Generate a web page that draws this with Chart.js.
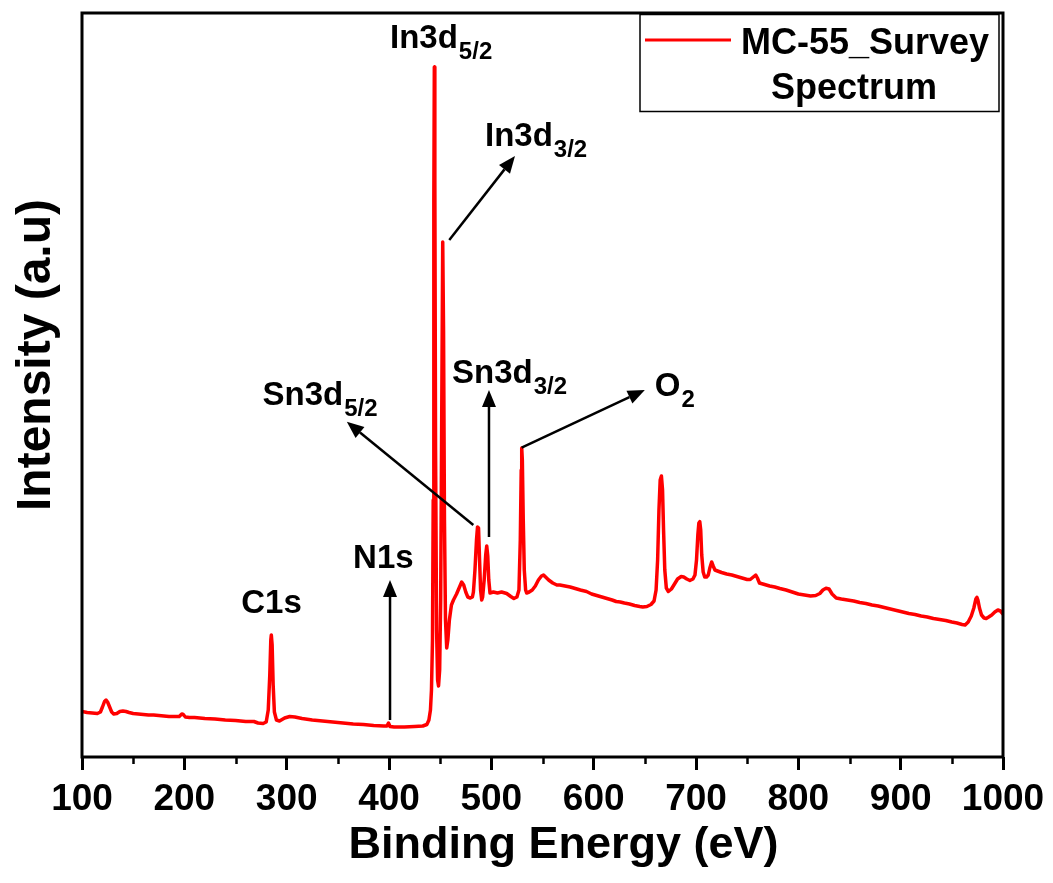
<!DOCTYPE html>
<html>
<head>
<meta charset="utf-8">
<script src="https://cdn.jsdelivr.net/npm/chart.js@4/dist/chart.umd.min.js"></script>
<style>
  html, body { margin: 0; padding: 0; background: #fff; }
  #wrap { width: 1053px; height: 883px; }
</style>
</head>
<body>
<div id="wrap"><canvas id="c" width="1053" height="883"></canvas></div>
<script>
// XPS survey spectrum of sample MC-55: binding energy (eV) vs intensity (a.u.)
const bindingEnergy = [
  100, 105, 110, 115, 118, 120, 122, 123.5, 125, 127, 129, 131, 134, 137, 140, 143, 146, 150,
  155, 160, 165, 170, 175, 180, 185, 190, 195, 197.5, 199, 201, 205, 210, 220, 230, 240, 250,
  260, 268, 272, 277, 280, 282, 283.5, 284.5, 285, 285.8, 286.8, 288, 290, 293, 298, 303, 308,
  315, 325, 335, 345, 355, 365, 375, 385, 395, 398, 399.5, 401, 405, 415, 425, 433, 437, 439,
  440.5, 441.5, 442.5, 443.2, 443.8, 444.3, 444.8, 445.5, 446.5, 447.5, 448.4, 449.5, 450.5,
  451.5, 452.5, 453.3, 454.2, 455.2, 456.4, 457.5, 459, 461, 463, 466, 468.5, 471, 473, 475,
  477, 479.5, 481.5, 482.5, 484, 485.5, 486.5, 487.5, 488.5, 489.5, 490.6, 491.5, 493, 494.5,
  495.5, 496.5, 497.5, 498.7, 502, 506, 510, 515, 519, 522, 525, 527, 528.3, 529.2, 529.7,
  530.3, 531.2, 532.2, 533.5, 534.5, 537, 540, 543, 546, 549, 551, 553, 556, 560, 564, 567,
  572, 577, 582, 587, 593, 598, 603, 608, 613, 618, 622, 626, 630, 635, 640, 645, 648, 652,
  656, 659, 661, 662.5, 663.8, 665, 666.2, 667.3, 668.3, 669.5, 671, 673, 676, 679, 682, 685.5,
  688, 691, 694, 697, 699, 700.5, 701.8, 702.8, 703.7, 704.6, 705.6, 707, 708.5, 710.3, 712,
  713.5, 715.3, 716.8, 718.5, 721, 725, 730, 735, 740, 745, 750, 753, 756, 758.4, 760, 762,
  767, 772, 777, 782, 788, 794, 800, 806, 812, 817, 821, 824, 827, 830, 833, 837, 842, 848,
  854, 860, 866, 872, 878, 884, 890, 896, 902, 908, 914, 920, 926, 932, 938, 944, 950, 955,
  960, 963, 966, 969, 971.5, 973.5, 974.5, 975.5, 977, 979, 981.5, 983.6, 986, 989, 992, 995,
  997.5, 1000
];
const intensity = [
  45.5, 44.5, 44, 43.5, 45, 50, 55.5, 57, 55, 50, 45, 43, 43.5, 45.5, 46, 45.5, 44.5, 43.5,
  43, 42.5, 42, 42, 41.5, 41, 40.5, 40.5, 40.5, 43, 42.5, 40, 39.5, 39.5, 38.5, 38, 37, 36.5,
  35.5, 35.5, 34, 33.5, 35, 47, 82, 117, 122, 112, 72, 45, 37, 36, 39, 40.5, 40,
  38.5, 37, 36, 35, 34, 33, 32.5, 31.5, 31, 31, 34, 30.5, 30, 30, 30.5, 31, 32.5, 37,
  47, 67, 117, 257, 557, 690, 577, 307, 127, 77, 71, 87, 157,
  337, 515, 427, 237, 137, 109, 117, 137, 152, 157, 163, 169, 175, 172, 165,
  160, 159, 160, 165, 187, 217, 230, 229, 197, 167, 157, 160, 177, 202,
  211, 201, 177, 164, 165, 164, 165, 163.5, 160.5, 158.5, 160, 167, 217, 287, 309,
  297, 237, 187, 167, 164, 165, 167, 171, 177, 181, 182, 180, 177, 174, 172, 172,
  171, 170, 168.5, 167, 165.5, 163, 161.5, 160, 158.5, 157, 155.5, 155, 154, 153, 151.5, 150.5, 150, 150.5,
  152.5, 156, 167, 197, 247, 277, 281, 267, 227, 187, 169, 165.5, 168, 173, 178, 180.5,
  180, 178, 176.5, 178, 182, 197, 222, 234, 235.3, 227, 202, 185, 180, 180, 182,
  189, 195, 191, 187, 186, 184.5, 183, 182, 180.5, 179, 177.5, 177.5, 180, 182, 179, 174,
  172.5, 171, 170, 168.5, 167, 165, 163, 162, 161, 161.5, 163.5, 167, 168.7, 168, 163, 159, 158, 157,
  156, 154.5, 153.5, 152, 151, 149.5, 148, 146.5, 145, 143.5, 142.5, 141, 140, 138.5, 137.5, 136.5, 135, 134,
  132.5, 132, 135, 141, 149, 158, 159.7, 157, 149, 142, 139, 138.5, 140, 142, 145, 147,
  146, 143
];

// x axis range and tick labels
const energyMin = 100;
const energyMax = 1000;
const energyStep = 100;
const minorTickEnergies = [150, 250, 350, 450, 550, 650, 750, 850, 950];

// peak labels: main text, subscript, anchor (binding energy, intensity)
const peakLabels = [
  { main: 'In3d', sub: '5/2', x: 401.0, y: 709 },
  { main: 'In3d', sub: '3/2', x: 493.8, y: 611 },
  { main: 'Sn3d', sub: '5/2', x: 276.4, y: 352 },
  { main: 'Sn3d', sub: '3/2', x: 461.6, y: 374 },
  { main: 'O', sub: '2', x: 659.7, y: 361 },
  { main: 'N1s', sub: '', x: 364.9, y: 189 },
  { main: 'C1s', sub: '', x: 255.6, y: 144 }
];
// arrows from peak to label, in (binding energy, intensity)
const peakArrows = [
  { from: [458.9, 517], to: [523.1, 601] },
  { from: [482.4, 232], to: [358.8, 335.3] },
  { from: [497.7, 220], to: [497.7, 367] },
  { from: [529.6, 309.3], to: [650.0, 367] },
  { from: [401.0, 37], to: [401.0, 177] }
];

const seriesName = ['MC-55_Survey', 'Spectrum'];
const xTitle = 'Binding Energy (eV)';
const yTitle = 'Intensity (a.u)';

const FONT = "'Liberation Sans', Arial, Helvetica, sans-serif";
const RED = '#ff0000';

const decorPlugin = {
  id: 'decor',
  afterDatasetsDraw(chart) {
    const { ctx, chartArea: a, scales } = chart;
    const xs = scales.x, ys = scales.y;
    ctx.save();

    // frame
    ctx.strokeStyle = '#000';
    ctx.lineWidth = 3;
    ctx.strokeRect(a.left, a.top, a.right - a.left, a.bottom - a.top);

    // minor ticks
    ctx.lineWidth = 2.5;
    ctx.beginPath();
    minorTickEnergies.forEach(v => {
      const px = Math.round(xs.getPixelForValue(v)) + 0.5;
      ctx.moveTo(px, a.bottom);
      ctx.lineTo(px, a.bottom + 7);
    });
    ctx.stroke();

    // arrows
    ctx.lineWidth = 2.5;
    ctx.fillStyle = '#000';
    peakArrows.forEach(ar => {
      const x1 = xs.getPixelForValue(ar.from[0]), y1 = ys.getPixelForValue(ar.from[1]);
      const x2 = xs.getPixelForValue(ar.to[0]), y2 = ys.getPixelForValue(ar.to[1]);
      const ang = Math.atan2(y2 - y1, x2 - x1);
      const headLen = 17, headHalf = 7;
      const bx = x2 - headLen * Math.cos(ang), by = y2 - headLen * Math.sin(ang);
      ctx.beginPath();
      ctx.moveTo(x1, y1);
      ctx.lineTo(bx, by);
      ctx.stroke();
      ctx.beginPath();
      ctx.moveTo(x2, y2);
      ctx.lineTo(bx + headHalf * Math.sin(ang), by - headHalf * Math.cos(ang));
      ctx.lineTo(bx - headHalf * Math.sin(ang), by + headHalf * Math.cos(ang));
      ctx.closePath();
      ctx.fill();
    });

    // peak labels with subscripts
    ctx.textBaseline = 'alphabetic';
    ctx.textAlign = 'left';
    peakLabels.forEach(l => {
      const px = xs.getPixelForValue(l.x), py = ys.getPixelForValue(l.y);
      ctx.font = `bold 33px ${FONT}`;
      ctx.fillText(l.main, px, py);
      if (l.sub) {
        const w = ctx.measureText(l.main).width;
        ctx.font = `bold 24px ${FONT}`;
        ctx.fillText(l.sub, px + w + 1, py + 11);
      }
    });

    // legend box
    const lx = a.right - 363, ly = a.top + 1.5, lw = 359, lh = 97;
    ctx.lineWidth = 1.5;
    ctx.strokeStyle = '#000';
    ctx.strokeRect(lx, ly, lw, lh);
    ctx.strokeStyle = RED;
    ctx.lineWidth = 3;
    ctx.beginPath();
    ctx.moveTo(lx + 5, ly + 25.5);
    ctx.lineTo(lx + 91, ly + 25.5);
    ctx.stroke();
    ctx.fillStyle = '#000';
    ctx.font = `bold 36px ${FONT}`;
    ctx.textAlign = 'left';
    ctx.fillText(seriesName[0], lx + 101, ly + 39);
    ctx.textAlign = 'center';
    ctx.fillText(seriesName[1], lx + 214, ly + 84);

    // axis titles
    ctx.font = `bold 45px ${FONT}`;
    ctx.textAlign = 'center';
    ctx.fillText(xTitle, (a.left + a.right) / 2 + 21, a.bottom + 101);
    ctx.save();
    ctx.translate(a.left - 32, (a.top + a.bottom) / 2 - 30);
    ctx.rotate(-Math.PI / 2);
    ctx.font = `bold 48px ${FONT}`;
    ctx.fillText(yTitle, 0, 0);
    ctx.restore();

    ctx.restore();
  }
};

new Chart(document.getElementById('c'), {
  type: 'scatter',
  data: {
    datasets: [{
      label: seriesName.join(' '),
      data: bindingEnergy.map((e, i) => ({ x: e, y: intensity[i] })),
      showLine: true,
      borderColor: RED,
      backgroundColor: RED,
      borderWidth: 3.5,
      pointRadius: 0,
      tension: 0,
      borderJoinStyle: 'round',
      borderCapStyle: 'round'
    }]
  },
  options: {
    responsive: false,
    animation: false,
    devicePixelRatio: 1,
    layout: { padding: { left: 82, right: 50, top: 13, bottom: 0 } },
    plugins: { legend: { display: false }, tooltip: { enabled: false } },
    scales: {
      x: {
        type: 'linear',
        min: energyMin,
        max: energyMax,
        border: { display: false },
        grid: {
          display: true,
          drawOnChartArea: false,
          drawTicks: true,
          tickLength: 13,
          lineWidth: 3,
          color: '#000'
        },
        ticks: {
          stepSize: energyStep,
          color: '#000',
          padding: 8,
          maxRotation: 0,
          autoSkip: false,
          font: { family: FONT, size: 37, weight: 'bold' },
          callback: v => String(v)
        },
        afterFit(scale) {
          scale.height = 126;
          scale.paddingLeft = 0;
          scale.paddingRight = 0;
        }
      },
      y: {
        display: false,
        min: 0,
        max: 744
      }
    }
  },
  plugins: [decorPlugin]
});
</script>
</body>
</html>
